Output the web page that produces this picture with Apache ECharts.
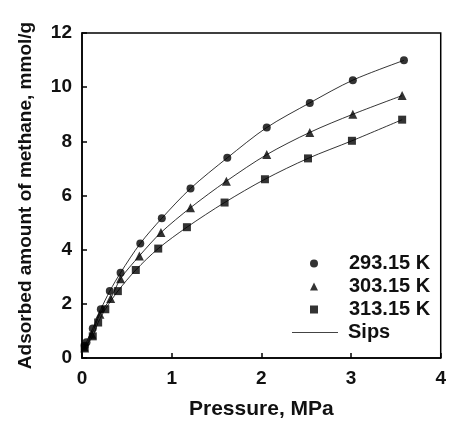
<!DOCTYPE html>
<html>
<head>
<meta charset="utf-8">
<script src="https://cdn.jsdelivr.net/npm/echarts@6/dist/echarts.min.js"></script>
<style>
  html, body { margin: 0; padding: 0; background: #fff; }
  #chart { width: 449px; height: 425px; }
</style>
</head>
<body>
<div id="chart"></div>
<script>
// 读图估计的数据 (压力 MPa, 吸附量 mmol/g)
const p293 = [0.03, 0.05, 0.12, 0.21, 0.31, 0.43, 0.65, 0.89, 1.21, 1.62, 2.06, 2.54, 3.02, 3.59];
const q293 = [0.45, 0.58, 1.09, 1.80, 2.47, 3.15, 4.23, 5.16, 6.26, 7.39, 8.51, 9.42, 10.26, 10.99];
const p303 = [0.03, 0.11, 0.20, 0.32, 0.43, 0.64, 0.88, 1.21, 1.61, 2.06, 2.54, 3.02, 3.57];
const q303 = [0.37, 0.88, 1.62, 2.20, 2.93, 3.77, 4.63, 5.55, 6.53, 7.51, 8.33, 9.00, 9.69];
const p313 = [0.03, 0.12, 0.18, 0.26, 0.40, 0.60, 0.85, 1.17, 1.59, 2.04, 2.52, 3.01, 3.57];
const q313 = [0.39, 0.80, 1.31, 1.80, 2.47, 3.25, 4.04, 4.83, 5.74, 6.60, 7.37, 8.02, 8.80];
const temps = ['293.15 K', '303.15 K', '313.15 K'];
const fitName = 'Sips';
const xTicks = [0, 1, 2, 3, 4];
const yTicks = [0, 2, 4, 6, 8, 10, 12];

const font = 'Liberation Sans, Arial, sans-serif';
const pair = (xs, ys) => xs.map((x, i) => [x, ys[i]]);
const sets = [pair(p293, q293), pair(p303, q303), pair(p313, q313)];
const symbols = ['circle', 'triangle', 'rect'];
const sizes = [8, 9, 8];

const series = [];
sets.forEach((d, i) => {
  // 拟合曲线
  series.push({
    name: fitName,
    type: 'line',
    data: d,
    smooth: 0.3,
    symbol: 'none',
    itemStyle: { color: '#000' },
    lineStyle: { color: '#000', width: 0.8 },
    z: 1
  });
  // 实验点
  series.push({
    name: temps[i],
    type: 'scatter',
    data: d,
    symbol: symbols[i],
    symbolSize: sizes[i],
    itemStyle: { color: '#000' },
    z: 2
  });
});

const legendText = { fontFamily: font, fontWeight: 'bold', fontSize: 20, color: '#111', lineHeight: 23 };

const chart = echarts.init(document.getElementById('chart'));
chart.setOption({
  animation: false,
  grid: {
    left: 82, top: 33, right: 3, bottom: 66,
    show: true, borderColor: '#000', borderWidth: 1.5, backgroundColor: 'transparent'
  },
  legend: [
    {
      // 温度图例（只有点）
      orient: 'vertical',
      left: 305,
      top: 247,
      itemWidth: 8,
      itemHeight: 8,
      itemGap: 0,
      data: temps.map((t, i) => ({ name: t, icon: symbols[i] })),
      textStyle: Object.assign({ padding: [0, 0, 0, 26] }, legendText)
    },
    {
      // 拟合线图例
      left: 287,
      top: 316,
      itemWidth: 46,
      itemHeight: 1,
      data: [{ name: fitName, icon: 'rect', itemStyle: { color: '#444' } }],
      textStyle: Object.assign({ padding: [0, 0, 0, 5] }, legendText)
    }
  ],
  xAxis: {
    type: 'value',
    min: xTicks[0], max: xTicks[xTicks.length - 1], interval: 1,
    name: 'Pressure, MPa',
    nameLocation: 'middle',
    nameGap: 41,
    nameTextStyle: { fontFamily: font, fontWeight: 'bold', fontSize: 21, color: '#111' },
    axisLine: { lineStyle: { color: '#000', width: 1.5 } },
    axisTick: { inside: true, length: 5, lineStyle: { color: '#000', width: 1.5 } },
    axisLabel: { margin: 11, fontFamily: font, fontWeight: 'bold', fontSize: 19, color: '#111' },
    splitLine: { show: false }
  },
  yAxis: {
    type: 'value',
    min: yTicks[0], max: yTicks[yTicks.length - 1], interval: 2,
    name: 'Adsorbed amount of methane, mmol/g',
    nameLocation: 'middle',
    nameGap: 47,
    nameTextStyle: { fontFamily: font, fontWeight: 'bold', fontSize: 19, color: '#111' },
    axisLine: { lineStyle: { color: '#000', width: 1.5 } },
    axisTick: { inside: true, length: 5, lineStyle: { color: '#000', width: 1.5 } },
    axisLabel: { margin: 10, fontFamily: font, fontWeight: 'bold', fontSize: 19, color: '#111' },
    splitLine: { show: false }
  },
  series: series
});
</script>
</body>
</html>
